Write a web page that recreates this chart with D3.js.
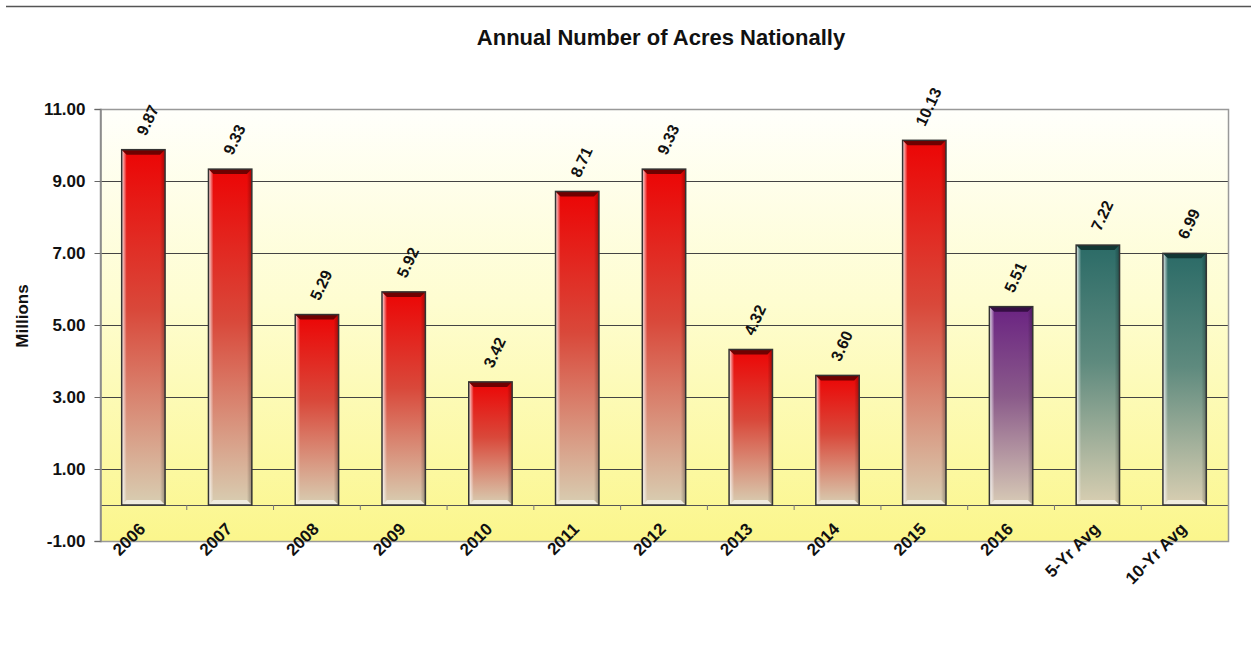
<!DOCTYPE html>
<html>
<head>
<meta charset="utf-8">
<script src="https://cdn.jsdelivr.net/npm/d3@7"></script>
<style>
  body { margin: 0; background: #fff; }
  text { font-family: "Liberation Sans", Arial, sans-serif; font-weight: bold; fill: #111; }
</style>
</head>
<body>
<svg id="chart" width="1251" height="656"></svg>
<script>
// chart data
const categories = ["2006", "2007", "2008", "2009", "2010", "2011", "2012", "2013", "2014", "2015", "2016", "5-Yr Avg", "10-Yr Avg"];
const acres = [9.87, 9.33, 5.29, 5.92, 3.42, 8.71, 9.33, 4.32, 3.60, 10.13, 5.51, 7.22, 6.99];
const barKind = ["past", "past", "past", "past", "past", "past", "past", "past", "past", "past", "current", "avg", "avg"];
const yTicks = [-1, 1, 3, 5, 7, 9, 11];

const palette = {
  past: { top: "#ec0505", mid: "#d9483a", bottom: "#d8ceb2", edge: "#5a0000" },
  current: { top: "#6a2382", mid: "#8a5a8a", bottom: "#d8cbb6", edge: "#2c0a38" },
  avg: { top: "#2b6b67", mid: "#5e8a7e", bottom: "#d9cfb2", edge: "#0e2e2c" }
};

const svg = d3.select("#chart");
const plotLeft = 100, plotRight = 1228, plotTop = 109, plotBottom = 541;

const x = d3.scaleBand().domain(categories).range([plotLeft, plotRight]).paddingInner(0.5).paddingOuter(0.25);
const y = d3.scaleLinear().domain([-1, 11]).range([plotBottom, plotTop]);

const defs = svg.append("defs");

// plot area background
const bg = defs.append("linearGradient").attr("id", "bg").attr("x1", 0).attr("y1", 0).attr("x2", 0).attr("y2", 1);
bg.append("stop").attr("offset", "0%").attr("stop-color", "#fffffb");
bg.append("stop").attr("offset", "45%").attr("stop-color", "#fefdd0");
bg.append("stop").attr("offset", "100%").attr("stop-color", "#fbf68c");

Object.keys(palette).forEach(function (k) {
  const c = palette[k];
  const g = defs.append("linearGradient").attr("id", "fill-" + k).attr("x1", 0).attr("y1", 0).attr("x2", 0).attr("y2", 1);
  g.append("stop").attr("offset", "0%").attr("stop-color", c.top);
  g.append("stop").attr("offset", "45%").attr("stop-color", c.mid);
  g.append("stop").attr("offset", "100%").attr("stop-color", c.bottom);
});

const hl = defs.append("linearGradient").attr("id", "hl").attr("x1", 0).attr("y1", 0).attr("x2", 1).attr("y2", 0);
hl.append("stop").attr("offset", "0%").attr("stop-color", "#fff").attr("stop-opacity", 0.9);
hl.append("stop").attr("offset", "100%").attr("stop-color", "#fff").attr("stop-opacity", 0);

const sh = defs.append("linearGradient").attr("id", "sh").attr("x1", 0).attr("y1", 0).attr("x2", 1).attr("y2", 0);
sh.append("stop").attr("offset", "0%").attr("stop-color", "#000").attr("stop-opacity", 0);
sh.append("stop").attr("offset", "100%").attr("stop-color", "#000").attr("stop-opacity", 0.3);

// top rule
svg.append("line").attr("x1", 6).attr("x2", 1251).attr("y1", 6.5).attr("y2", 6.5)
  .attr("stroke", "#555").attr("stroke-width", 1.5);

// title
svg.append("text").attr("x", 661).attr("y", 45).attr("text-anchor", "middle")
  .style("font-size", "22px").text("Annual Number of Acres Nationally");

// plot background
svg.append("rect").attr("x", plotLeft).attr("y", plotTop).attr("width", plotRight - plotLeft).attr("height", plotBottom - plotTop)
  .attr("fill", "url(#bg)");

// gridlines
svg.append("g").selectAll("line").data(yTicks.filter(d => d > -1)).join("line")
  .attr("x1", plotLeft).attr("x2", plotRight)
  .attr("y1", d => Math.round(y(d)) + 0.5).attr("y2", d => Math.round(y(d)) + 0.5)
  .attr("stroke", d => d === 11 ? "#999" : "#444").attr("stroke-width", 1);

// zero line and category ticks
svg.append("line").attr("x1", plotLeft).attr("x2", plotRight).attr("y1", y(0) + 0.5).attr("y2", y(0) + 0.5)
  .attr("stroke", "#555");
svg.append("g").selectAll("line").data(d3.range(1, categories.length)).join("line")
  .attr("x1", i => plotLeft + i * x.step()).attr("x2", i => plotLeft + i * x.step())
  .attr("y1", y(0)).attr("y2", y(0) + 5)
  .attr("stroke", "#777");

// plot border
svg.append("rect").attr("x", plotLeft + 0.5).attr("y", plotTop + 0.5).attr("width", plotRight - plotLeft).attr("height", plotBottom - plotTop)
  .attr("fill", "none").attr("stroke", "#999").attr("stroke-width", 1.5);

// y axis
const yAxis = svg.append("g").attr("transform", "translate(" + (plotLeft + 0.5) + ",0)")
  .call(d3.axisLeft(y).tickValues(yTicks).tickFormat(d => d.toFixed(2)).tickSize(6).tickPadding(9));
yAxis.select(".domain").attr("stroke", "#888").attr("stroke-width", 1.5);
yAxis.selectAll(".tick line").attr("stroke", "#666");
yAxis.selectAll("text").attr("fill", "#111")
  .style("font-size", "17px")
  .style("font-family", "'Liberation Sans', Arial, sans-serif").style("font-weight", "bold");

svg.append("text").attr("transform", "translate(28,316) rotate(-90)").attr("text-anchor", "middle")
  .style("font-size", "17px").text("Millions");

// bars
const bw = x.bandwidth();
const bars = svg.append("g").selectAll("g").data(categories).join("g");
bars.each(function (c, i) {
  const g = d3.select(this);
  const k = barKind[i];
  const x0 = x(c), y0 = y(acres[i]), h = y(0) - y(acres[i]);
  const b = 5;
  g.append("rect").attr("x", x0).attr("y", y0).attr("width", bw).attr("height", h).attr("fill", "url(#fill-" + k + ")");
  // bevel: left highlight, right shade, top dark cap, bottom light
  g.append("polygon").attr("points", [[x0, y0], [x0 + b, y0 + b], [x0 + b, y0 + h - b], [x0, y0 + h]].join(" "))
    .attr("fill", "url(#hl)");
  g.append("polygon").attr("points", [[x0 + bw, y0], [x0 + bw - b, y0 + b], [x0 + bw - b, y0 + h - b], [x0 + bw, y0 + h]].join(" "))
    .attr("fill", "url(#sh)");
  g.append("polygon").attr("points", [[x0, y0], [x0 + bw, y0], [x0 + bw - b, y0 + b], [x0 + b, y0 + b]].join(" "))
    .attr("fill", palette[k].edge).attr("opacity", 0.85);
  g.append("polygon").attr("points", [[x0, y0 + h], [x0 + bw, y0 + h], [x0 + bw - b, y0 + h - b], [x0 + b, y0 + h - b]].join(" "))
    .attr("fill", "#fff").attr("opacity", 0.6);
  g.append("rect").attr("x", x0).attr("y", y0).attr("width", bw).attr("height", h)
    .attr("fill", "none").attr("stroke", "#333").attr("stroke-width", 1.5);
});

// value labels: centred rotated text, box sitting just above each bar
const angle = 65, rad = angle * Math.PI / 180, capH = 11.5;
svg.append("g").selectAll("text").data(categories).join("text")
  .attr("text-anchor", "middle")
  .attr("dy", "0.36em")
  .style("font-size", "16px")
  .text((c, i) => acres[i].toFixed(2))
  .attr("transform", function (c, i) {
    const len = this.getComputedTextLength();
    const half = len / 2 * Math.sin(rad) + capH / 2 * Math.cos(rad);
    return "translate(" + (x(c) + bw / 2 + 4) + "," + (y(acres[i]) - 13 - half) + ") rotate(" + (-angle) + ")";
  });

// category labels
svg.append("g").selectAll("text").data(categories).join("text")
  .attr("transform", c => "translate(" + (x(c) + bw / 2 + 3) + "," + (y(0) + 25) + ") rotate(-45)")
  .attr("text-anchor", "end")
  .style("font-size", "17px")
  .text(c => c);
</script>
</body>
</html>
